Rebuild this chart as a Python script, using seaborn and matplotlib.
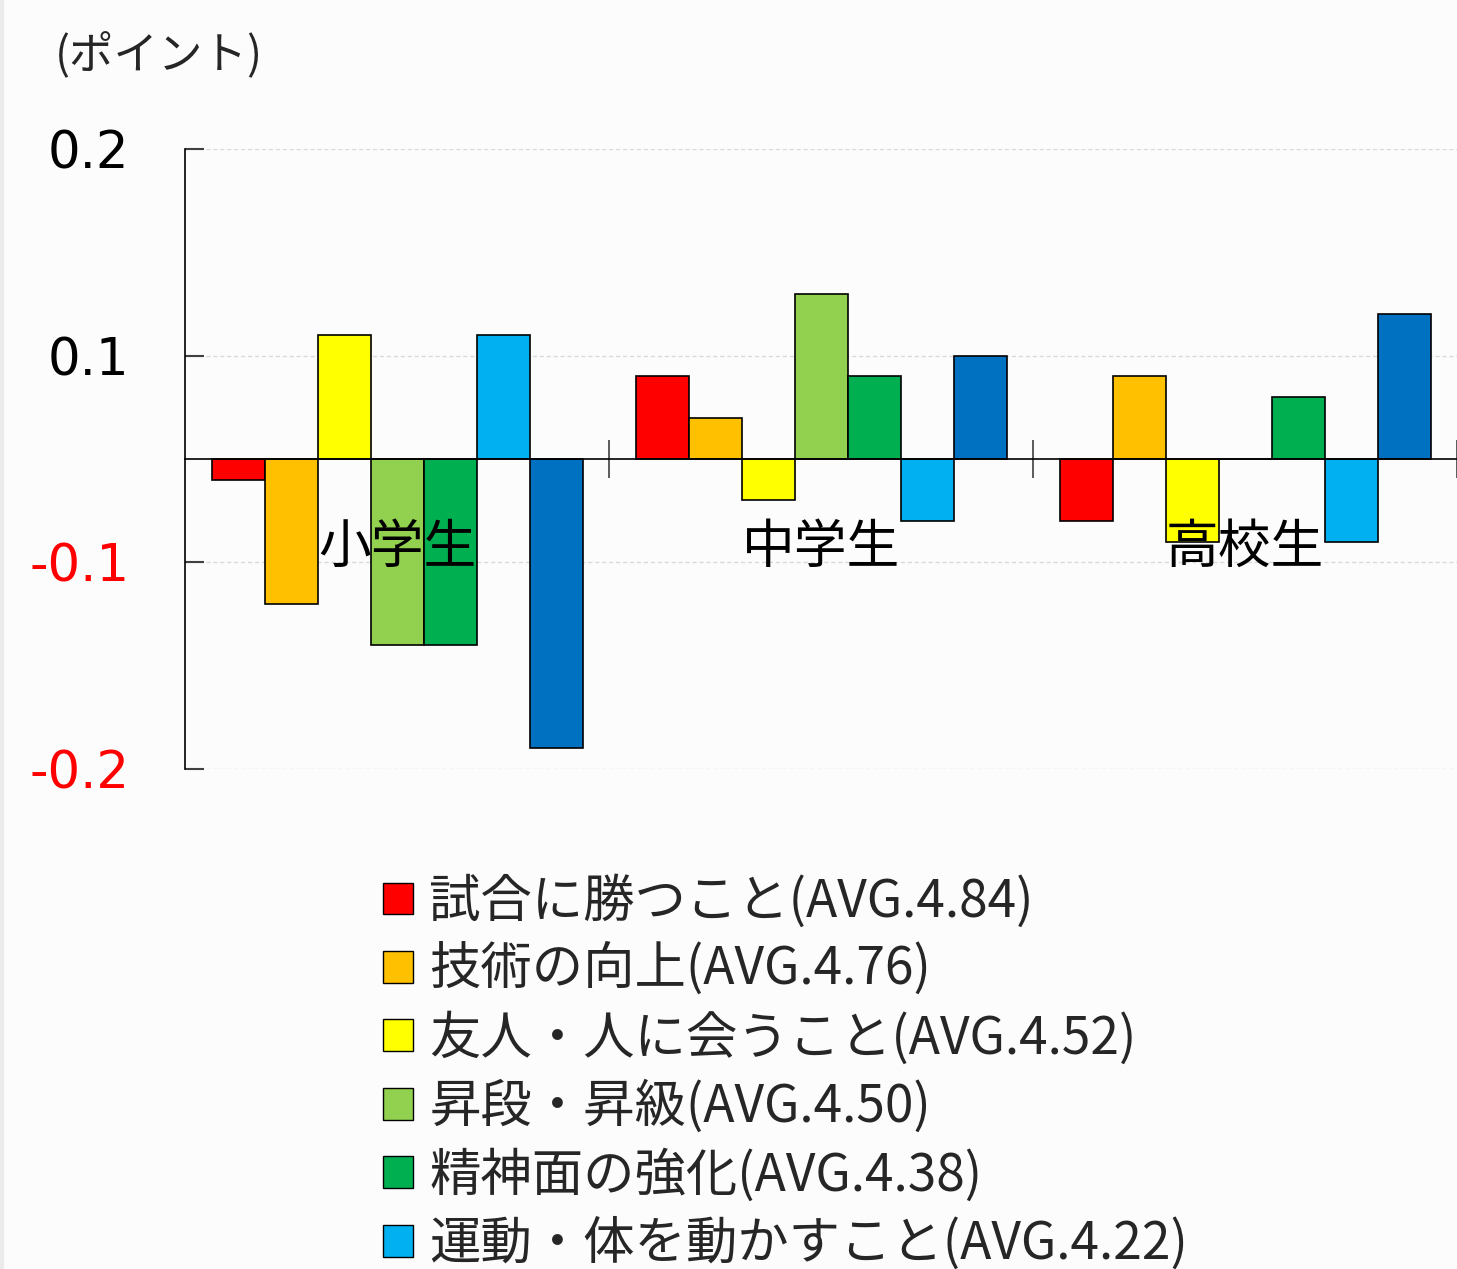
import matplotlib
matplotlib.use("Agg")
import matplotlib.pyplot as plt
from matplotlib.lines import Line2D
from matplotlib.patches import Patch
import seaborn as sns
import pandas as pd

# ---- data ----
groups = ["小学生", "中学生", "高校生"]
items = [
    "試合に勝つこと(AVG.4.84)",
    "技術の向上(AVG.4.76)",
    "友人・人に会うこと(AVG.4.52)",
    "昇段・昇級(AVG.4.50)",
    "精神面の強化(AVG.4.38)",
    "運動・体を動かすこと(AVG.4.22)",
    "その他",
]
colors = ["#FF0000", "#FFC000", "#FFFF00", "#92D050", "#00B050", "#00B0F0", "#0070C0"]

win = [-0.01, 0.04, -0.03]
skill = [-0.07, 0.02, 0.04]
friends = [0.06, -0.02, -0.04]
rank = [-0.09, 0.08, 0.00]
mental = [-0.09, 0.04, 0.03]
exercise = [0.06, -0.03, -0.04]
other = [-0.14, 0.05, 0.07]
series = [win, skill, friends, rank, mental, exercise, other]

ytick_vals = [-0.15, -0.05, 0.05, 0.15]
ytick_labels = ["-0.2", "-0.1", "0.1", "0.2"]

rows = []
for item, vals in zip(items, series):
    for g, v in zip(groups, vals):
        rows.append({"group": g, "item": item, "value": v})
df = pd.DataFrame(rows)

# ---- figure ----
sns.set_style("white")
plt.rcParams["font.family"] = ["Noto Sans CJK JP", "DejaVu Sans"]
bg = "#FCFCFC"
fig = plt.figure(figsize=(14.57, 12.69), dpi=100, facecolor=bg)
ax = fig.add_axes([185 / 1457, 1 - 769 / 1269, 1 - 185 / 1457, (769 - 149) / 1269])
ax.set_facecolor(bg)

sns.barplot(data=df, x="group", y="value", hue="item", order=groups, hue_order=items,
            palette=colors, saturation=1, width=0.875, edgecolor="black",
            linewidth=1.2, ax=ax, legend=False, errorbar=None)

ax.set_xlim(-0.5, 2.5)
ax.set_ylim(-0.15, 0.15)
ax.set_axisbelow(True)
ax.yaxis.grid(True, color="#D9D9D9", linestyle=(0, (3, 2)), linewidth=1)
ax.xaxis.grid(False)

for s in ["top", "right"]:
    ax.spines[s].set_visible(False)
ax.spines["left"].set_color("black")
ax.spines["left"].set_linewidth(1.2)
ax.spines["bottom"].set_position(("data", 0))
ax.spines["bottom"].set_color("black")
ax.spines["bottom"].set_linewidth(1.2)

ax.set_yticks(ytick_vals)
ax.set_yticklabels(ytick_labels, family=["DejaVu Sans"], fontsize=37)
for lab, v in zip(ax.get_yticklabels(), ytick_vals):
    lab.set_color("red" if v < 0 else "black")
ax.tick_params(axis="y", left=True, direction="in", length=14, width=1.5, color="#404040", pad=40)

ax.set_xticks([0, 1, 2])
ax.tick_params(axis="x", which="major", bottom=True, length=0, labelbottom=False)
ax.set_xticks([0.5, 1.5, 2.5], minor=True)
ax.tick_params(axis="x", which="minor", bottom=True, direction="inout", length=27,
               width=1.2, color="#404040")
ax.set_xlabel("")
ax.set_ylabel("")

for i, g in enumerate(groups):
    ax.annotate(g, xy=(i, 0), xytext=(0, -75), textcoords="offset points",
                ha="center", va="baseline", fontsize=38, zorder=10, color="black")

fig.text(55 / 1457, 1 - 55 / 1269, "(ポイント)", fontsize=32, ha="left", va="center")

handles = [Patch(facecolor=c, edgecolor="black", linewidth=1) for c in colors]
fig.legend(handles[:6], items[:6], loc="upper left",
           bbox_to_anchor=(383 / 1457, 1 - 875 / 1269), frameon=False,
           fontsize=37, handlelength=0.58, handleheight=0.58, handletextpad=0.32,
           labelspacing=0.29, borderpad=0, borderaxespad=0)

fig.add_artist(Line2D([0.0015, 0.0015], [0, 1], color="#EBEBEB", lw=3, transform=fig.transFigure))

fig.savefig("out.png", dpi=100, facecolor=bg)
